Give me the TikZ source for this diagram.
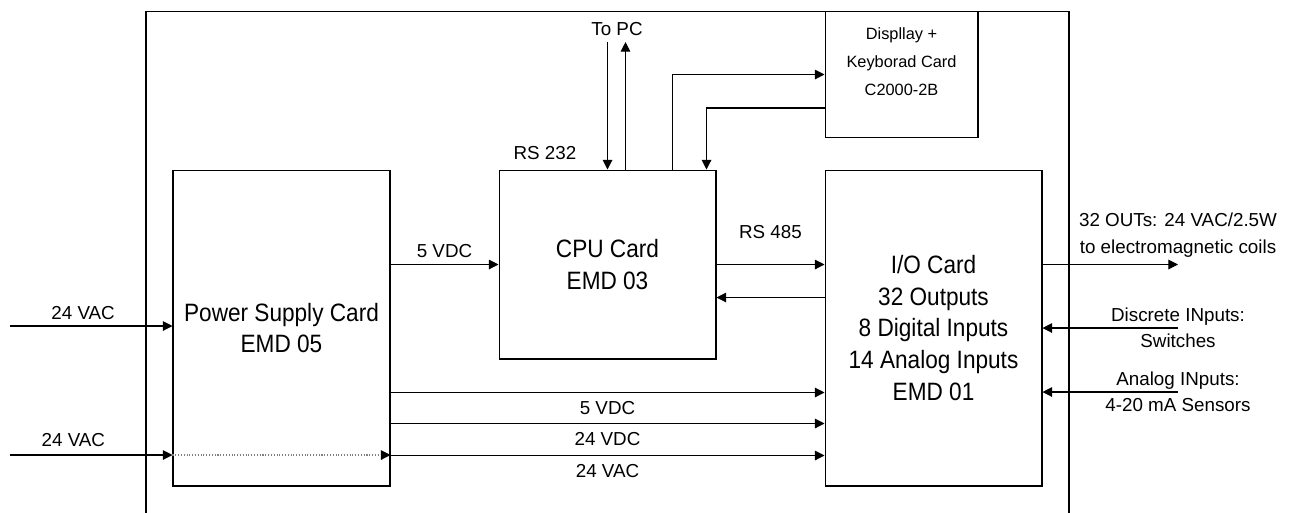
\documentclass[tikz,border=0pt]{standalone}
\usepackage{fontspec}
\setmainfont{Liberation Sans}
\newfontfamily\cardfont{Liberation Sans}[FakeStretch=0.9]
\usetikzlibrary{arrows.meta,calc}

\begin{document}
\begin{tikzpicture}[x=0.02cm,y=-0.02cm,>={Triangle[length=5.5pt,width=5.5pt]},line width=0.6pt,
  card/.style={draw,minimum width=4.34cm,inner sep=0pt,align=center,
    font=\cardfont\fontsize{14.3}{18}\selectfont},
  lbl/.style={font=\fontsize{10.7}{15}\selectfont}]
  \useasboundingbox (0,0) rectangle (1297,512);
  \draw (146,513) -- (146,11.5) -- (1069,11.5) -- (1069,513);

  \node[card,minimum height=6.32cm] (ps) at (281.5,328) {Power Supply Card\\EMD 05};
  \node[card,minimum height=3.78cm] (cpu) at (607.5,264.5) {CPU Card\\EMD 03};
  \node[card,minimum height=6.32cm] (io) at (933.5,328)
    {I/O Card\\32 Outputs\\8 Digital Inputs\\14 Analog Inputs\\EMD 01};
  \node[draw,minimum width=3.06cm,minimum height=2.52cm] (dsp) at (901.5,74.5) {};
  \node[align=center,font=\fontsize{9.3}{16}\selectfont] (dsptxt) at (901.5,62)
    {Displlay +\\Keyborad Card\\C2000-2B};

  \node[lbl] (topc) at (617,29) {To PC};
  \node[lbl] (rs232) at (545,153) {RS 232};
  \coordinate (pcup) at ($(cpu.north)+(18,0)$);
  \draw[->] (topc.south -| cpu.north) -- (cpu.north);
  \draw[->] (pcup) -- (pcup |- topc.south);
  \draw[->] ($(cpu.north east)+(-44,0)$) |- (dsp.west);
  \draw[->] ($(dsp.south west)+(0,-30)$) -| ($(cpu.north east)+(-10,0)$);

  \coordinate (acin1) at (10,326);
  \coordinate (acin2) at (10,455);
  \draw[->] (acin1) -- (acin1 -| ps.west) node[lbl,above,pos=0.45] {24 VAC};
  \draw[->] (acin2) -- (acin2 -| ps.west) node[lbl,above=1pt,pos=0.39] {24 VAC};
  \draw[-{Triangle[length=5.5pt,width=5.5pt,color=black]},gray,densely dotted]
    (acin2 -| ps.west) -- (acin2 -| ps.east);

  \draw[->] (ps.east |- cpu.west) -- (cpu.west) node[lbl,midway,above] {5 VDC};
  \draw[->] (cpu.east) -- (io.west |- cpu.east) node[lbl,midway,above=11pt] {RS 485};
  \draw[->] ($(io.west |- cpu.east)+(0,33)$) -- ($(cpu.east)+(0,33)$);

  \draw[->] ($(ps.south east)+(0,-94)$) -- ($(io.south west)+(0,-94)$)
    node[lbl,midway,below=1.5pt] {5 VDC};
  \draw[->] ($(ps.south east)+(0,-63)$) -- ($(io.south west)+(0,-63)$)
    node[lbl,midway,below=1.5pt] {24 VDC};
  \draw[->] ($(ps.south east)+(0,-31)$) -- ($(io.south west)+(0,-31)$)
    node[lbl,midway,below=1.5pt] {24 VAC};

  \coordinate (outs) at (1178,264.5);
  \coordinate (dsc) at (1178,328);
  \coordinate (ana) at (1178,392);
  \draw[->] (io.east |- outs) -- (outs)
    node[lbl,above=0.5pt,align=center] {32 OUTs: 24 VAC/2.5W\\to electromagnetic coils};
  \draw[->] (dsc) -- (io.east |- dsc);
  \draw[->] (ana) -- (io.east |- ana);
  \node[lbl,align=center] (dsctxt) at (dsc) {Discrete INputs:\\Switches};
  \node[lbl,align=center] (anatxt) at (ana) {Analog INputs:\\4-20 mA Sensors};
\end{tikzpicture}
\end{document}
